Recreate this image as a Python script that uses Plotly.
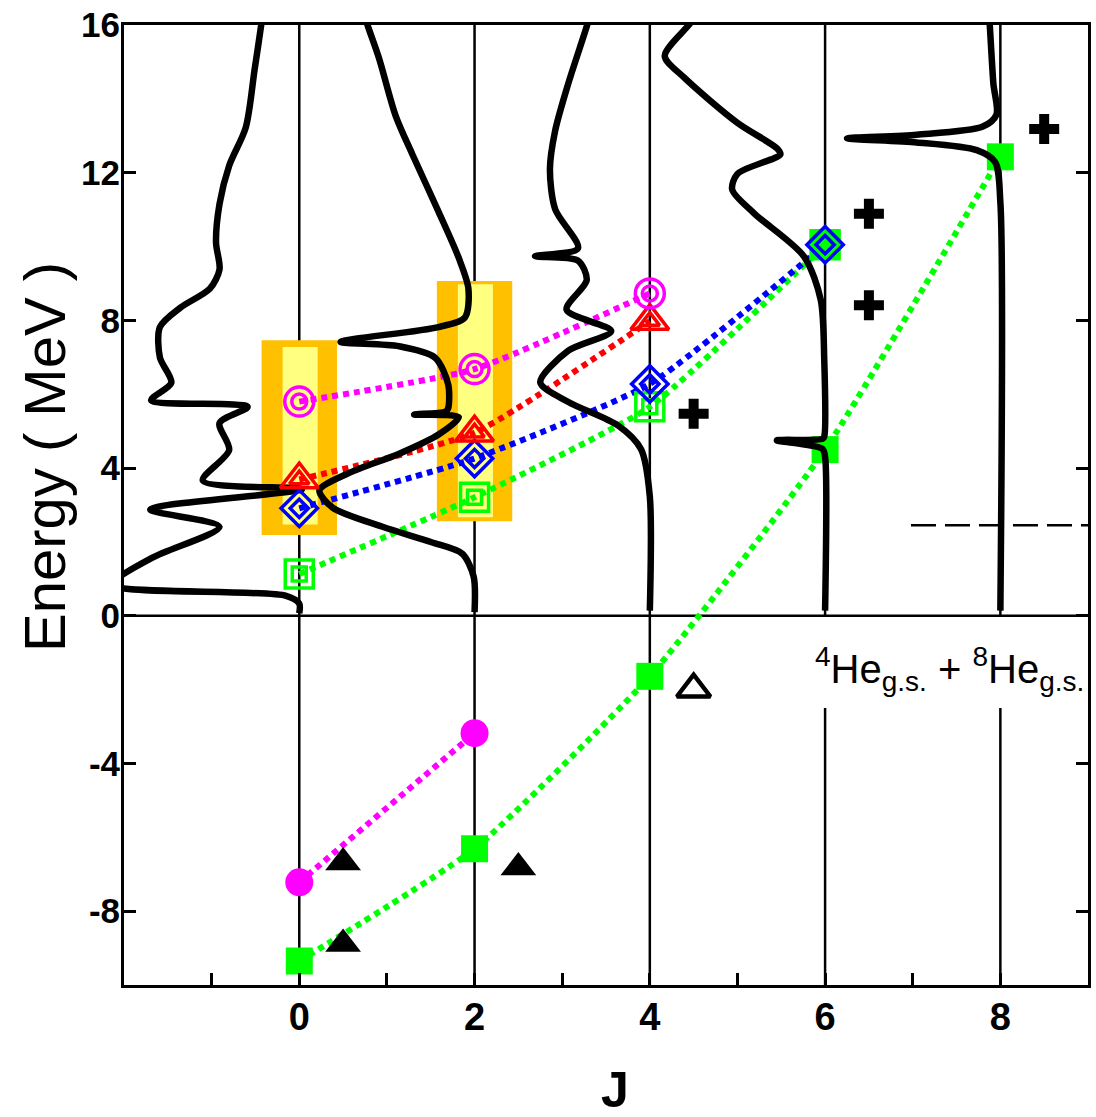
import plotly.graph_objects as go

FONT = "Arial, Liberation Sans, Helvetica, sans-serif"

# ---------------- data ----------------
J_LINES = [0, 2, 4, 6, 8]
# vertical J baselines: (J, E_start, E_end)
LINE_SEGMENTS = [(0, -10, 16), (2, -10, 16), (4, -10, 16),
                 (6, 0, 16), (6, -10, -2.5), (8, 0, 16), (8, -10, -2.5)]

# strength functions (energy in MeV, strength drawn leftward from the J baseline)
E_J0 = [16.3, 15.99, 14.79, 13.23, 12.19, 11.15, 10.11, 9.38, 8.86, 8.34, 7.82, 6.99, 6.31,
        5.84, 5.66, 5.22, 4.49, 3.66, 3.43, 2.88, 2.41, 1.58, 0.95, 0.80, 0.54, 0.33, 0.07]
S_J0 = [0.42, 0.435, 0.51, 0.61, 0.80, 0.91, 0.95, 0.91, 1.02, 1.36, 1.59, 1.59, 1.46,
        1.69, 0.59, 0.91, 0.80, 1.10, -0.03, 1.70, 0.91, 1.67, 2.1, 2.1, 0.15, 0.0, 0.0]

E_J2 = [16.3, 15.99, 15.1, 13.54, 12.50, 10.94, 9.69, 8.86, 8.08, 7.82, 7.42, 7.30, 6.99, 6.26,
        5.63, 5.53, 5.45, 5.38, 4.91, 4.39, 3.87, 3.40, 2.93, 2.41, 1.99, 1.68, 1.06, 0.10]
S_J2 = [1.26, 1.22, 1.09, 0.90, 0.71, 0.41, 0.18, 0.07, 0.11, 0.41, 1.53, 0.86, 0.45, 0.30,
        0.30, 0.33, 0.69, 0.18, 0.41, 0.86, 1.43, 1.77, 1.62, 1.05, 0.49, 0.14, 0.01, 0.0]

E_J4 = [16.3, 15.96, 14.42, 13.14, 12.08, 11.01, 9.95, 9.74, 9.62, 9.09, 8.29, 7.71, 7.18,
        6.32, 5.79, 5.15, 4.51, 3.23, 0.14]
S_J4 = [0.68, 0.72, 0.93, 1.08, 1.14, 1.08, 0.82, 1.31, 0.82, 0.72, 0.95, 0.44, 0.93,
        1.25, 0.93, 0.36, 0.10, 0.0, 0.0]

E_J6 = [16.3, 15.96, 15.16, 14.58, 13.35, 12.66, 12.50, 11.97, 11.54, 10.90, 9.73, 8.56,
        6.97, 4.85, 4.79, 4.75, 4.52, 4.30, 0.14]
S_J6 = [1.45, 1.57, 1.83, 1.61, 1.0, 0.55, 0.51, 1.0, 1.06, 0.81, 0.24, 0.05,
        0.01, 0.01, 0.03, 0.55, 0.03, 0.0, 0.0]

E_J8 = [16.3, 15.96, 14.42, 13.57, 13.25, 13.03, 12.93, 12.82, 12.61, 12.29, 11.2, 0.14]
S_J8 = [0.13, 0.12, 0.08, 0.045, 0.20, 0.955, 1.75, 0.955, 0.27, 0.06, 0.0, 0.0]

CURVES = [(0, E_J0, S_J0), (2, E_J2, S_J2), (4, E_J4, S_J4), (6, E_J6, S_J6), (8, E_J8, S_J8)]

# resonance bands (J, outer E range, inner E range)
BAND_J = [0, 2]
BAND_OUTER_E = [(2.19, 7.46), (2.56, 9.07)]
BAND_INNER_E = [(2.47, 7.28), (2.67, 8.98)]

# calculated levels above threshold (double open markers)
J_MAG_UP = [0, 2, 4]
E_MAG_UP = [5.80, 6.68, 8.73]
J_RED_UP = [0, 2, 4]
E_RED_UP = [3.69, 4.96, 7.98]
J_BLUE_UP = [0, 2, 4, 6]
E_BLUE_UP = [2.91, 4.26, 6.28, 10.05]
J_GRN_UP = [0, 2, 4, 6]
E_GRN_UP = [1.13, 3.21, 5.66, 10.05]

# bound / ground band levels (filled markers)
J_MAG_LOW = [0, 2]
E_MAG_LOW = [-7.22, -3.18]
J_GRN_LOW = [0, 2, 4, 6, 8]
E_GRN_LOW = [-9.35, -6.31, -1.64, 4.50, 12.43]

# other references
J_TRI_FILLED = [0.5, 0.5, 2.5]
E_TRI_FILLED = [-6.68, -8.89, -6.82]
J_TRI_OPEN = [4.5]
E_TRI_OPEN = [-1.99]
J_PLUS = [4.5, 6.5, 6.5, 8.5]
E_PLUS = [5.47, 10.89, 8.41, 13.18]

THRESHOLD_E = 2.45
THRESHOLD_J = (6.98, 9.0)

X_TICKS = list(range(-1, 9))
X_TICKTEXT = ["" if j % 2 else "<b>%d</b>" % j for j in X_TICKS]
Y_TICKS = [-8, -4, 0, 4, 8, 12, 16]
Y_TICKTEXT = ["<b>%d</b>" % v for v in Y_TICKS]

# ---------------- figure ----------------
MAG = "#FF00FF"
RED = "#FF0000"
BLUE = "#0000FF"
GRN = "#00FF00"

fig = go.Figure()
shapes = []
for j, e0, e1 in LINE_SEGMENTS:
    shapes.append(dict(type="line", xref="x", yref="y", x0=j, x1=j, y0=e0, y1=e1,
                       line=dict(color="black", width=2.5), layer="below"))
shapes.append(dict(type="line", xref="x", yref="y", x0=-2, x1=9, y0=0, y1=0,
                   line=dict(color="black", width=2.5), layer="below"))
for j, (o0, o1), (i0, i1) in zip(BAND_J, BAND_OUTER_E, BAND_INNER_E):
    shapes.append(dict(type="rect", xref="x", yref="y", x0=j - 0.43, x1=j + 0.43, y0=o0, y1=o1,
                       fillcolor="#FFC000", line=dict(width=0), layer="below"))
    shapes.append(dict(type="rect", xref="x", yref="y", x0=j - 0.19, x1=j + 0.21, y0=i0, y1=i1,
                       fillcolor="#FFFF80", line=dict(width=0), layer="below"))
shapes.append(dict(type="line", xref="x", yref="y", x0=THRESHOLD_J[0], x1=THRESHOLD_J[1],
                   y0=THRESHOLD_E, y1=THRESHOLD_E,
                   line=dict(color="black", width=2.5, dash="25px,9px"), layer="below"))

DOT = "6px,5px"
LW_DOT = 6
MLW = 3.5

# ground band (below curves)
fig.add_trace(go.Scatter(x=J_GRN_LOW, y=E_GRN_LOW, mode="lines+markers",
                         line=dict(color=GRN, width=LW_DOT, dash=DOT, shape="spline", smoothing=0.5),
                         marker=dict(symbol="square", size=27, color=GRN)))
fig.add_trace(go.Scatter(x=J_MAG_LOW, y=E_MAG_LOW, mode="lines+markers",
                         line=dict(color=MAG, width=LW_DOT, dash=DOT),
                         marker=dict(symbol="circle", size=28, color=MAG)))

# dotted lines of upper series
for xs, ys, c in [(J_GRN_UP, E_GRN_UP, GRN), (J_BLUE_UP, E_BLUE_UP, BLUE),
                  (J_RED_UP, E_RED_UP, RED), (J_MAG_UP, E_MAG_UP, MAG)]:
    fig.add_trace(go.Scatter(x=xs, y=ys, mode="lines",
                             line=dict(color=c, width=LW_DOT, dash=DOT, shape="spline", smoothing=0.5)))

# strength function curves
for j, es, ss in CURVES:
    fig.add_trace(go.Scatter(x=[j - s for s in ss], y=es, mode="lines",
                             line=dict(color="black", width=6.5, shape="spline", smoothing=0.8)))

# upper double markers
gsym = ["square-open"] * (len(J_GRN_UP) - 1) + ["square"]
fig.add_trace(go.Scatter(x=J_GRN_UP, y=E_GRN_UP, mode="markers",
                         marker=dict(symbol=gsym, size=28, color=GRN, line=dict(width=MLW, color=GRN))))
fig.add_trace(go.Scatter(x=J_GRN_UP[:-1], y=E_GRN_UP[:-1], mode="markers",
                         marker=dict(symbol="square-open", size=14, color=GRN, line=dict(width=MLW))))
for xs, ys, c, sym, s1, s2 in [(J_BLUE_UP, E_BLUE_UP, BLUE, "diamond-open", 28, 14),
                               (J_RED_UP, E_RED_UP, RED, "triangle-up-open", 33, 17),
                               (J_MAG_UP, E_MAG_UP, MAG, "circle-open", 29, 15)]:
    fig.add_trace(go.Scatter(x=xs, y=ys, mode="markers",
                             marker=dict(symbol=sym, size=s1, color=c, line=dict(width=MLW))))
    fig.add_trace(go.Scatter(x=xs, y=ys, mode="markers",
                             marker=dict(symbol=sym, size=s2, color=c, line=dict(width=MLW))))

# black reference markers
fig.add_trace(go.Scatter(x=J_TRI_FILLED, y=E_TRI_FILLED, mode="markers",
                         marker=dict(symbol="triangle-up", size=31, color="black")))
fig.add_trace(go.Scatter(x=J_TRI_OPEN, y=E_TRI_OPEN, mode="markers",
                         marker=dict(symbol="triangle-up-open", size=29, color="black",
                                     line=dict(width=4.5))))
fig.add_trace(go.Scatter(x=J_PLUS, y=E_PLUS, mode="markers",
                         marker=dict(symbol="cross", size=25, color="black")))

annotations = [
    dict(x=8.98, y=-1.45, xref="x", yref="y", xanchor="right", yanchor="middle", showarrow=False,
         text="<sup>4</sup>He<sub>g.s.</sub> + <sup>8</sup>He<sub>g.s.</sub>",
         font=dict(family=FONT, size=40, color="black")),
    dict(x=-0.083, y=4.3, xref="paper", yref="y", xanchor="center", yanchor="middle",
         showarrow=False, textangle=-90, text="Energy ( MeV )",
         font=dict(family=FONT, size=58, color="black")),
    dict(x=3.6, y=-0.109, xref="x", yref="paper", xanchor="center", yanchor="middle",
         showarrow=False, text="<b>J</b>", font=dict(family=FONT, size=50, color="black")),
]

fig.update_layout(
    width=1096, height=1117,
    margin=dict(l=124, r=5, t=20, b=132),
    paper_bgcolor="white", plot_bgcolor="white",
    showlegend=False, shapes=shapes, annotations=annotations,
    font=dict(family=FONT, color="black"),
)
fig.update_xaxes(range=[-2, 9], showgrid=False, zeroline=False, showline=True,
                 linecolor="black", linewidth=3, mirror=True,
                 ticks="inside", ticklen=12, tickwidth=2.5, tickcolor="black",
                 tickvals=X_TICKS, ticktext=X_TICKTEXT, ticklabelstandoff=-4,
                 tickfont=dict(family=FONT, size=38, color="black"))
fig.update_yaxes(range=[-10, 16], showgrid=False, zeroline=False, showline=True,
                 linecolor="black", linewidth=3, mirror="ticks",
                 ticks="inside", ticklen=12, tickwidth=2.5, tickcolor="black",
                 tickvals=Y_TICKS, ticktext=Y_TICKTEXT, ticklabelstandoff=-6,
                 tickfont=dict(family=FONT, size=35, color="black"))

fig.write_html("out.html")
